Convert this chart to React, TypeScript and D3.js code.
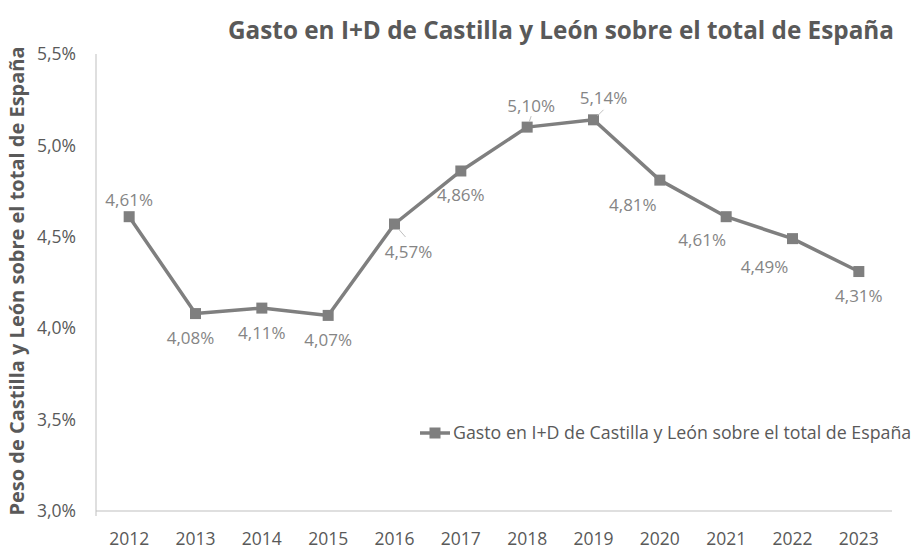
import React from 'react';
import * as d3 from 'd3';

const years = ['2012', '2013', '2014', '2015', '2016', '2017', '2018', '2019', '2020', '2021', '2022', '2023'];
const values = [4.61, 4.08, 4.11, 4.07, 4.57, 4.86, 5.10, 5.14, 4.81, 4.61, 4.49, 4.31];
const yTicks = [3.0, 3.5, 4.0, 4.5, 5.0, 5.5];

const title = 'Gasto en I+D de Castilla y León sobre el total de España';
const yTitle = 'Peso de Castilla y León sobre el total de España';
const seriesName = 'Gasto en I+D de Castilla y León sobre el total de España';

// label placement relative to each marker (dx, dy)
const labelOffsets: [number, number][] = [
  [0, -17], [-5, 24], [0, 25], [0, 25], [14, 28], [0, 24],
  [4, -21], [10, -22], [-27, 25], [-24, 23], [-28, 28], [0, 25],
];

const fmt = (v: number) => v.toFixed(2).replace('.', ',') + '%';
const fmtTick = (v: number) => v.toFixed(1).replace('.', ',') + '%';

export default function App() {
  const width = 916;
  const height = 549;
  const margin = { top: 54, right: 24, bottom: 38, left: 96 };
  const innerW = width - margin.left - margin.right;
  const innerH = height - margin.top - margin.bottom;

  const x = d3.scaleBand<string>().domain(years).range([0, innerW]);
  const y = d3.scaleLinear().domain([3.0, 5.5]).range([innerH, 0]);
  const cx = (i: number) => x(years[i])! + x.bandwidth() / 2;

  const line = d3.line<number>()
    .x((_, i) => cx(i))
    .y((d) => y(d));

  const font = '"Open Sans", "Liberation Sans", sans-serif';
  const textColor = '#595959';
  const seriesColor = '#7f7f7f';

  return (
    <svg width={width} height={height} style={{ position: 'absolute', left: 0, top: 0, background: '#fff' }} fontFamily={font}>
      <text x={561} y={39} textAnchor="middle" fontSize={24.3} fontWeight="bold" fill={textColor}>{title}</text>
      <text transform={`translate(24,${281}) rotate(-90)`} textAnchor="middle" fontSize={20} fontWeight="bold" fill={textColor}>{yTitle}</text>

      <g transform={`translate(${margin.left},${margin.top})`}>
        <line x1={0} x2={0} y1={0} y2={innerH} stroke="#bfbfbf" />
        <line x1={0} x2={innerW} y1={innerH} y2={innerH} stroke="#bfbfbf" />
        <line x1={0} x2={0} y1={innerH} y2={innerH + 5} stroke="#bfbfbf" />

        {yTicks.map((t) => (
          <text key={t} x={-20} y={y(t)} dy="0.35em" textAnchor="end" fontSize={17.5} fill={textColor}>{fmtTick(t)}</text>
        ))}
        {years.map((yr, i) => (
          <text key={yr} x={cx(i)} y={innerH + 34} textAnchor="middle" fontSize={17.5} fill={textColor}>{yr}</text>
        ))}

        <path d={line(values)!} fill="none" stroke={seriesColor} strokeWidth={3.5} strokeLinejoin="round" />
        {values.map((v, i) => (
          <rect key={i} x={cx(i) - 5.5} y={y(v) - 5.5} width={11} height={11} fill={seriesColor} />
        ))}

        {values.map((v, i) => {
          const [dx, dy] = labelOffsets[i];
          return (
            <text key={i} x={cx(i) + dx} y={y(v) + dy} dy="0.35em" textAnchor="middle" fontSize={17} fill="#858585">{fmt(v)}</text>
          );
        })}
        {/* leader lines for displaced labels */}
        <line x1={cx(4) + 4} y1={y(values[4]) + 5} x2={cx(4) + 11} y2={y(values[4]) + 13} stroke="#bfbfbf" />
        <line x1={cx(6) + 2} y1={y(values[6]) - 5} x2={cx(6) + 4} y2={y(values[6]) - 11} stroke="#bfbfbf" />
        <line x1={cx(7) + 4} y1={y(values[7]) - 4} x2={cx(7) + 10} y2={y(values[7]) - 10} stroke="#bfbfbf" />

        <g transform={`translate(${420 - margin.left},${433 - margin.top})`}>
          <line x1={0} x2={30} y1={0} y2={0} stroke={seriesColor} strokeWidth={3.5} />
          <rect x={9.5} y={-5.5} width={11} height={11} fill={seriesColor} />
          <text x={33} y={0} dy="0.35em" fontSize={17.8} fill={textColor}>{seriesName}</text>
        </g>
      </g>
    </svg>
  );
}
